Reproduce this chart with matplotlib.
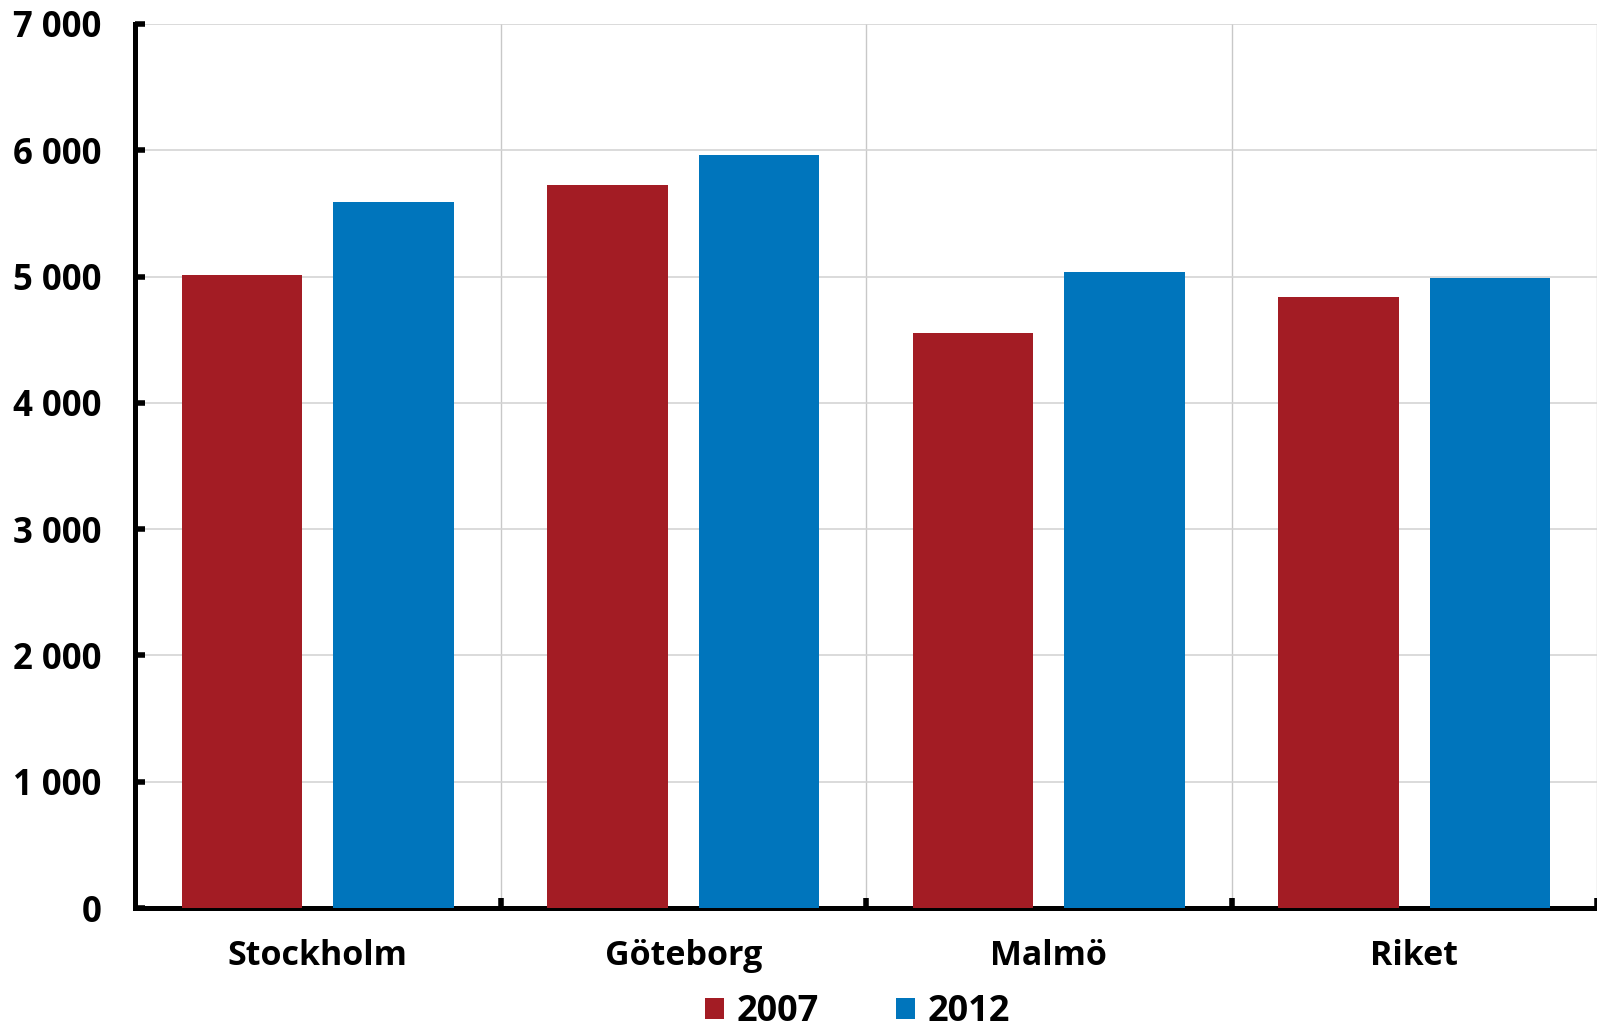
import matplotlib
matplotlib.use("Agg")
import matplotlib.pyplot as plt
import numpy as np
from matplotlib.ticker import FuncFormatter, FixedLocator

categories = ["Stockholm", "Göteborg", "Malmö", "Riket"]
series_names = ["2007", "2012"]
values_2007 = [5010, 5725, 4555, 4835]
values_2012 = [5590, 5960, 5035, 4985]
yticks = [0, 1000, 2000, 3000, 4000, 5000, 6000, 7000]

red = "#A31C24"
blue = "#0075BC"

plt.rcParams['font.family'] = ['Open Sans', 'DejaVu Sans']
plt.rcParams['font.weight'] = 'bold'

W, H = 1597, 1029
fig = plt.figure(figsize=(W / 100, H / 100), dpi=100)
left, right, top, bottom = 135, 1597, 24, 908
ax = fig.add_axes([left / W, 1 - bottom / H, (right - left) / W, (bottom - top) / H])

x = np.arange(len(categories))
bw = 0.33
off = 0.2075
ax.bar(x - off, values_2007, bw, color=red, label=series_names[0], zorder=3)
ax.bar(x + off, values_2012, bw, color=blue, label=series_names[1], zorder=3)

ax.set_xlim(-0.5, len(categories) - 0.5)
ax.set_ylim(0, 7000)
ax.set_yticks(yticks)
ax.yaxis.set_major_formatter(FuncFormatter(lambda v, p: f"{int(v):,}".replace(",", " ")))

# x: ticks at category boundaries, labels at centers
ax.xaxis.set_major_locator(FixedLocator(np.arange(len(categories)) + 0.5))
ax.xaxis.set_minor_locator(FixedLocator(x))
ax.set_xticklabels([])
ax.set_xticklabels(categories, minor=True)
ax.tick_params(axis='x', which='major', direction='in', length=7, width=4, color='black')
ax.tick_params(axis='x', which='minor', length=0, pad=22, labelsize=24.5)
ax.tick_params(axis='y', direction='in', length=7, width=4, pad=24, labelsize=25)
for lab in ax.get_xticklabels(minor=True) + ax.get_yticklabels():
    lab.set_fontweight('bold')

ax.grid(axis='y', color='#d4d4d4', linewidth=1.2, zorder=0)
ax.grid(axis='x', which='major', color='#c8c8c8', linewidth=1.0, zorder=0)
ax.set_axisbelow(True)

for s in ['top', 'right']:
    ax.spines[s].set_visible(False)
for s in ['left', 'bottom']:
    ax.spines[s].set_linewidth(3.6)
    ax.spines[s].set_color('black')

leg = fig.legend(loc='lower center', bbox_to_anchor=(0.537, -0.033), ncol=2, frameon=False,
                 handlelength=0.52, handleheight=0.52, handletextpad=0.35,
                 columnspacing=2.15, prop={'weight': 'bold', 'size': 26})

fig.savefig("out.png", dpi=100)
